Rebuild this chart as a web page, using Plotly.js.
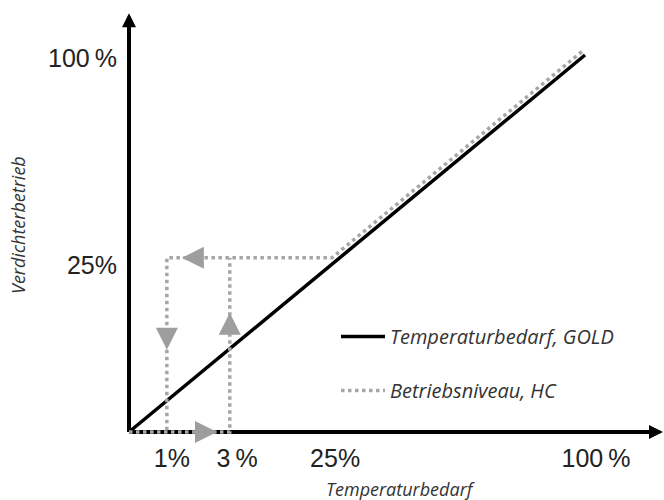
<!DOCTYPE html>
<html><head><meta charset="utf-8">
<script src="https://cdn.plot.ly/plotly-3.0.1.min.js"></script>
<style>html,body{margin:0;padding:0;background:#fff}</style>
</head><body><div id="chart" style="width:664px;height:500px"></div>
<script>
// Schematic data units: origin = 0, end of demand line = 100
const demandX = [0, 100];
const demandY = [0, 100];
const hcX = [99.3, 44.5, 8.3, 8.3, null, 0, 22.1, 22.1];
const hcY = [100.9, 46.2, 46.2, 0, null, 0, 0, 46.2];
const xTickVals = [9.4, 23.7, 45.2, 102.4];
const xTickText = ['1%', '3\u2009%', '25%', '100\u2009%'];
const yTickVals = [44.3, 99.2];
const yTickText = ['25%', '100\u2009%'];
const arrowX = [11.6, 8.3, 22.1, 19.3];
const arrowY = [46.2, 21.8, 31.6, 0];
const arrowDir = ['left', 'down', 'up', 'right'];
const axisEndX = 117.1;
const axisEndY = 111.1;
const seriesNames = ['Temperaturbedarf, GOLD', 'Betriebsniveau, HC'];
const xTitle = 'Temperaturbedarf';
const yTitle = 'Verdichterbetrieb';

const GRAY = '#a6a6a6';
const ARROWGRAY = '#9e9e9e';

const traces = [
  {x: [0, axisEndX - 2], y: [0, 0], mode: 'lines', line: {color: '#000', width: 4}, showlegend: false, hoverinfo: 'skip'},
  {x: [0, 0], y: [0, axisEndY - 2], mode: 'lines', line: {color: '#000', width: 4}, showlegend: false, hoverinfo: 'skip'},
  {x: demandX, y: demandY, mode: 'lines', name: seriesNames[0], legendgroup: 'a',
   line: {color: '#000', width: 3.5}},
  {x: hcX, y: hcY, mode: 'lines', name: seriesNames[1], legendgroup: 'b', connectgaps: false,
   line: {color: GRAY, width: 3.5, dash: 'dot'}}
];

const off = {left: [22, 0], right: [-22, 0], up: [0, 22], down: [0, -22]};
const annotations = [];
arrowDir.forEach((d, i) => {
  annotations.push({x: arrowX[i], y: arrowY[i], xref: 'x', yref: 'y', text: '', showarrow: true,
    ax: off[d][0], ay: off[d][1], arrowhead: 2, arrowsize: 2.2, arrowwidth: 2,
    arrowcolor: ARROWGRAY, standoff: 0});
});
annotations.push({x: axisEndX, y: 0, xref: 'x', yref: 'y', text: '', showarrow: true,
  ax: -16, ay: 0, arrowhead: 2, arrowsize: 0.7, arrowwidth: 4, arrowcolor: '#000', standoff: 0});
annotations.push({x: 0, y: axisEndY, xref: 'x', yref: 'y', text: '', showarrow: true,
  ax: 0, ay: 16, arrowhead: 2, arrowsize: 0.7, arrowwidth: 4, arrowcolor: '#000', standoff: 0});
annotations.push({x: (400 - 100) / 564, y: (460 - 489) / 460, xref: 'paper', yref: 'paper',
  xanchor: 'center', yanchor: 'middle',
  text: xTitle, showarrow: false, font: {family: 'Open Sans', size: 18, color: '#333', style: 'italic'}});
annotations.push({x: (18 - 100) / 564, y: (460 - 225) / 460, xref: 'paper', yref: 'paper',
  xanchor: 'center', yanchor: 'middle',
  text: yTitle, textangle: -90, showarrow: false, font: {family: 'Open Sans', size: 18, color: '#333', style: 'italic'}});

const layout = {
  width: 664, height: 500,
  margin: {l: 100, r: 0, t: 0, b: 40},
  paper_bgcolor: '#fff', plot_bgcolor: '#fff',
  showlegend: true,
  legend: {x: (336 - 100) / 564, y: (460 - 317) / 460, xanchor: 'left', yanchor: 'top',
    traceorder: 'grouped', tracegroupgap: 25, itemwidth: 44, bgcolor: 'rgba(0,0,0,0)',
    font: {family: 'Open Sans', size: 20, color: '#333', style: 'italic'}},
  xaxis: {range: [-6.36, 117.32], showgrid: false, zeroline: false, showline: false,
    anchor: 'free', position: 28 / 460, tickvals: xTickVals, ticktext: xTickText, ticks: '',
    ticklabelstandoff: 9,
    tickfont: {family: 'Liberation Sans', size: 25, color: '#222'}, fixedrange: true},
  yaxis: {range: [-7.43, 114.59], showgrid: false, zeroline: false, showline: false,
    anchor: 'free', position: 29 / 564, tickvals: yTickVals, ticktext: yTickText, ticks: '',
    ticklabelstandoff: 12,
    tickfont: {family: 'Liberation Sans', size: 25, color: '#222'}, fixedrange: true},
  annotations: annotations
};

Plotly.newPlot('chart', traces, layout, {displayModeBar: false, staticPlot: true});
</script>
</body></html>
